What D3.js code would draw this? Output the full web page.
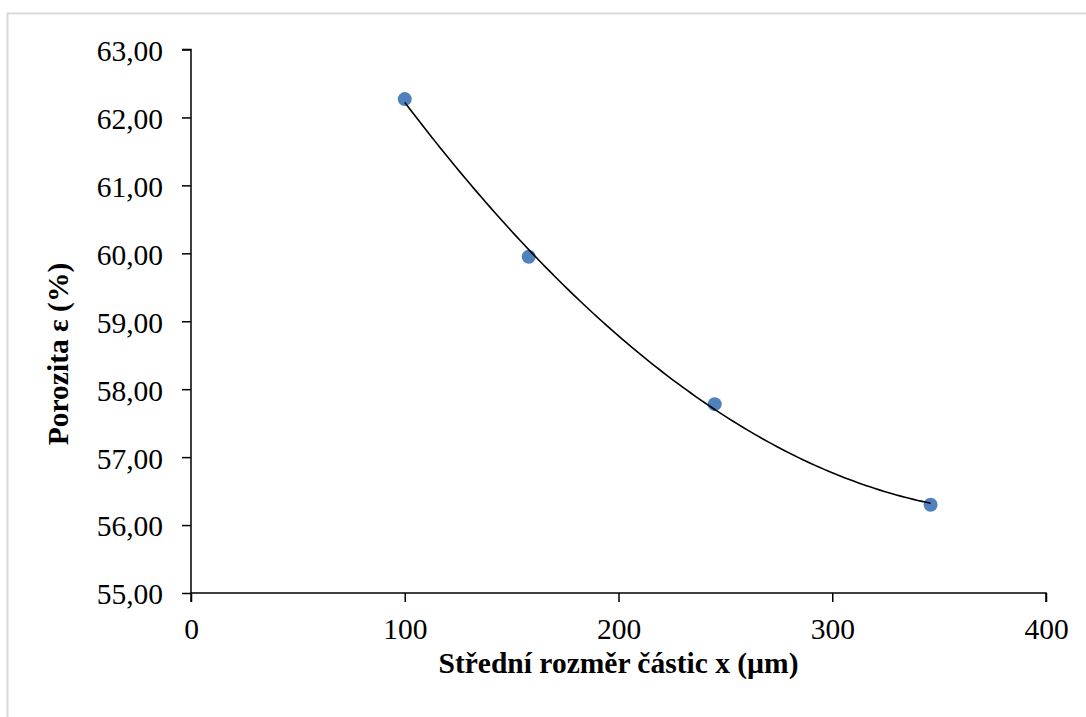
<!DOCTYPE html>
<html>
<head>
<meta charset="utf-8">
<script src="https://cdn.jsdelivr.net/npm/d3@7"></script>
<style>
  body { margin: 0; background: #fff; }
  svg { display: block; }
</style>
</head>
<body>
<svg id="chart" width="1086" height="717"></svg>
<script>
var sizes = [100, 158, 245, 346];
var porosity = [62.27, 59.95, 57.78, 56.30];
var xTicks = [0, 100, 200, 300, 400];
var yTicks = [55, 56, 57, 58, 59, 60, 61, 62, 63];

var serif = "'Liberation Serif', 'DejaVu Serif', 'Noto Serif', 'Times New Roman', serif";

var svg = d3.select('#chart');

var margin = { top: 49.5, bottom: 124, left: 191, right: 40 };
var width = 1086, height = 717;

// chart area border
svg.append('rect')
  .attr('x', 7.5).attr('y', 13.5)
  .attr('width', 1100).attr('height', 720)
  .attr('fill', 'none')
  .attr('stroke', '#d9d9d9')
  .attr('stroke-width', 2);

var xScale = d3.scaleLinear()
  .domain([0, 400])
  .range([margin.left, width - margin.right]);

var yScale = d3.scaleLinear()
  .domain([55, 63])
  .range([height - margin.bottom, margin.top]);

var fmt = function(d) { return d3.format('.2f')(d).replace('.', ','); };

// axes
var yAxis = svg.append('g')
  .attr('transform', 'translate(' + margin.left + ',0)')
  .call(d3.axisLeft(yScale).tickValues(yTicks).tickFormat(fmt).tickSize(9).tickPadding(19));

var xAxis = svg.append('g')
  .attr('transform', 'translate(0,' + (height - margin.bottom) + ')')
  .call(d3.axisBottom(xScale).tickValues(xTicks).tickFormat(d3.format('d')).tickSize(9).tickPadding(16));

svg.selectAll('.domain, .tick line')
  .attr('stroke', '#000')
  .attr('stroke-width', 1.5);
yAxis.attr('font-family', serif).attr('font-size', 29.5);
xAxis.attr('font-family', serif).attr('font-size', 29.5);
svg.selectAll('.tick text').attr('fill', '#000');
yAxis.select('.domain').attr('d', 'M-9,' + yScale(63) + 'H0V' + yScale(55));
xAxis.select('.domain').attr('d', 'M' + xScale(0) + ',9V0H' + xScale(400) + 'V9');
yAxis.selectAll('.tick text').attr('dy', '0.37em');

// points
var points = sizes.map(function(s, i) { return { x: s, y: porosity[i] }; });

svg.selectAll('.dot')
  .data(points)
  .enter()
  .append('circle')
  .attr('class', 'dot')
  .attr('cx', function(d) { return xScale(d.x); })
  .attr('cy', function(d) { return yScale(d.y); })
  .attr('r', 7)
  .attr('fill', '#4f81bd');

// polynomial (order 2) trendline - least squares fit of the points
function quadFit(xs, ys) {
  var n = xs.length, s = [0, 0, 0, 0, 0], t = [0, 0, 0];
  for (var i = 0; i < n; i++) {
    var p = 1;
    for (var k = 0; k < 5; k++) { s[k] += p; if (k < 3) t[k] += p * ys[i]; p *= xs[i]; }
  }
  var A = [[s[0], s[1], s[2], t[0]], [s[1], s[2], s[3], t[1]], [s[2], s[3], s[4], t[2]]];
  for (var c = 0; c < 3; c++) {
    for (var r = c + 1; r < 3; r++) {
      var f = A[r][c] / A[c][c];
      for (var j = c; j < 4; j++) A[r][j] -= f * A[c][j];
    }
  }
  var coef = [0, 0, 0];
  for (var r2 = 2; r2 >= 0; r2--) {
    var v = A[r2][3];
    for (var j2 = r2 + 1; j2 < 3; j2++) v -= A[r2][j2] * coef[j2];
    coef[r2] = v / A[r2][r2];
  }
  return coef;
}
var coef = quadFit(sizes, porosity);
var trend = d3.range(sizes[0], sizes[sizes.length - 1] + 0.5, 2).map(function(x) {
  return { x: x, y: coef[0] + coef[1] * x + coef[2] * x * x };
});

svg.append('path')
  .datum(trend)
  .attr('fill', 'none')
  .attr('stroke', '#000')
  .attr('stroke-width', 1.6)
  .attr('d', d3.line()
    .x(function(d) { return xScale(d.x); })
    .y(function(d) { return yScale(d.y); }));

// axis titles
svg.append('text')
  .attr('x', (xScale(0) + xScale(400)) / 2)
  .attr('y', 673)
  .attr('text-anchor', 'middle')
  .attr('font-family', serif)
  .attr('font-size', 29.5)
  .attr('font-weight', 'bold')
  .text('Střední rozměr částic x (µm)');

svg.append('text')
  .attr('transform', 'translate(68,354) rotate(-90)')
  .attr('text-anchor', 'middle')
  .attr('font-family', serif)
  .attr('font-size', 29.5)
  .attr('font-weight', 'bold')
  .text('Porozita ε (%)');
</script>
</body>
</html>
